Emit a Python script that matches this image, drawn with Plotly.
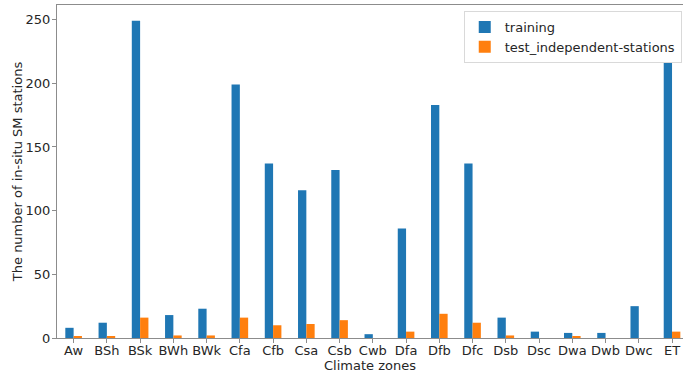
import plotly.graph_objects as go

categories = ["Aw", "BSh", "BSk", "BWh", "BWk", "Cfa", "Cfb", "Csa", "Csb", "Cwb",
              "Dfa", "Dfb", "Dfc", "Dsb", "Dsc", "Dwa", "Dwb", "Dwc", "ET"]
training = [8, 12, 249, 18, 23, 199, 137, 116, 132, 3, 86, 183, 137, 16, 5, 4, 4, 25, 217]
test_independent = [1, 1, 16, 2, 2, 16, 10, 11, 14, 0, 5, 19, 12, 2, 0, 1, 0, 0, 5]

font = "DejaVu Sans"
xi = list(range(len(categories)))

fig = go.Figure()
fig.add_trace(go.Bar(x=xi, y=training, name="training", marker_color="#1f77b4",
                     marker_line_width=0))
fig.add_trace(go.Bar(x=xi, y=test_independent, name="test_independent-stations",
                     marker_color="#ff7f0e", marker_line_width=0))

fig.update_layout(
    width=683, height=373,
    margin=dict(l=57, r=0, t=5, b=35),
    paper_bgcolor="white", plot_bgcolor="white",
    barmode="group", bargap=0.5, bargroupgap=0,
    font=dict(family=font, size=13, color="#262626"),
    showlegend=True,
    legend=dict(x=0.998, y=0.982, xanchor="right", yanchor="top",
                bordercolor="#d9d9d9", borderwidth=1, bgcolor="white",
                font=dict(size=13, family=font), tracegroupgap=0),
    xaxis=dict(range=[-0.5, 18.33], tickmode="array", tickvals=xi, ticktext=categories,
               showline=True, linecolor="#8c8c8c", linewidth=1, mirror=True,
               ticks="outside", ticklen=4, tickcolor="#8c8c8c", showgrid=False,
               zeroline=False, ticklabelstandoff=-4,
               title=dict(text="Climate zones", standoff=0, font=dict(size=13))),
    yaxis=dict(range=[0, 261.45], tickvals=[0, 50, 100, 150, 200, 250],
               showline=True, linecolor="#8c8c8c", linewidth=1,
               ticks="outside", ticklen=4, tickcolor="#8c8c8c", showgrid=False,
               zeroline=False, ticklabelstandoff=-1,
               title=dict(text="The number of in-situ SM stations", standoff=0,
                          font=dict(size=13))),
)

fig.write_html("out.html")
